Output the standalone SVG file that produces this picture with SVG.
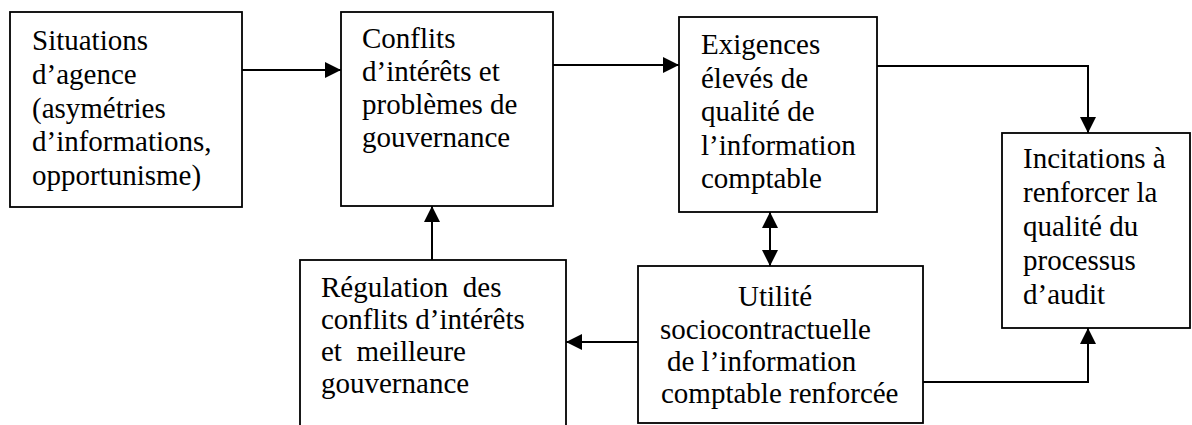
<svg xmlns="http://www.w3.org/2000/svg" width="1192" height="425" viewBox="0 0 1192 425">
<style>
.box{fill:#fff;stroke:#000;stroke-width:1.8}
.t{font-family:'Liberation Serif','Times New Roman',serif;font-size:29px;fill:#000}
.c{fill:none;stroke:#000;stroke-width:2}
</style>
<defs>
<marker id="ah" markerUnits="userSpaceOnUse" markerWidth="16" markerHeight="16" refX="16" refY="8" orient="auto-start-reverse" viewBox="0 0 16 16">
<path d="M0,0 L16,8 L0,16 z" fill="#000"/>
</marker>
</defs>
<rect width="1192" height="425" fill="#fff"/>
<g id="connectors">
<path class="c" d="M242,70 H341" marker-end="url(#ah)"/>
<path class="c" d="M553,65 H679" marker-end="url(#ah)"/>
<path class="c" d="M877,66 H1088 V133" marker-end="url(#ah)"/>
<path class="c" d="M770,212 V266" marker-start="url(#ah)" marker-end="url(#ah)"/>
<path class="c" d="M923,382 H1088 V328" marker-end="url(#ah)"/>
<path class="c" d="M638,342 H566" marker-end="url(#ah)"/>
<path class="c" d="M432,260 V206" marker-end="url(#ah)"/>
</g>
<g id="situations">
<rect class="box" x="10" y="12" width="232" height="195"/>
<text class="t" x="32" y="50">Situations</text>
<text class="t" x="32" y="84">d’agence</text>
<text class="t" x="32" y="117.5">(asymétries</text>
<text class="t" x="32" y="151">d’informations,</text>
<text class="t" x="32" y="185">opportunisme)</text>
</g>
<g id="conflits">
<rect class="box" x="341" y="12" width="212" height="194"/>
<text class="t" x="362" y="48">Conflits</text>
<text class="t" x="362" y="81">d’intérêts et</text>
<text class="t" x="362" y="114">problèmes de</text>
<text class="t" x="362" y="147">gouvernance</text>
</g>
<g id="exigences">
<rect class="box" x="679" y="17" width="198" height="195"/>
<text class="t" x="701" y="54">Exigences</text>
<text class="t" x="701" y="87.5">élevés de</text>
<text class="t" x="701" y="121">qualité de</text>
<text class="t" x="701" y="154.5">l’information</text>
<text class="t" x="701" y="188">comptable</text>
</g>
<g id="incitations">
<rect class="box" x="1002" y="133" width="188" height="195"/>
<text class="t" x="1023" y="168">Incitations à</text>
<text class="t" x="1023" y="202">renforcer la</text>
<text class="t" x="1023" y="236">qualité du</text>
<text class="t" x="1023" y="270">processus</text>
<text class="t" x="1023" y="304">d’audit</text>
</g>
<g id="utilite">
<rect class="box" x="638" y="266" width="285" height="157"/>
<text class="t" x="738" y="306">Utilité</text>
<text class="t" x="660" y="338.5">sociocontractuelle</text>
<text class="t" x="667" y="371">de l’information</text>
<text class="t" x="661" y="403">comptable renforcée</text>
</g>
<g id="regulation">
<rect class="box" x="300" y="260" width="266" height="190"/>
<text class="t" x="321" y="297" xml:space="preserve">Régulation  des</text>
<text class="t" x="321" y="329">conflits d’intérêts</text>
<text class="t" x="321" y="361" xml:space="preserve">et  meilleure</text>
<text class="t" x="321" y="393">gouvernance</text>
</g>
</svg>
